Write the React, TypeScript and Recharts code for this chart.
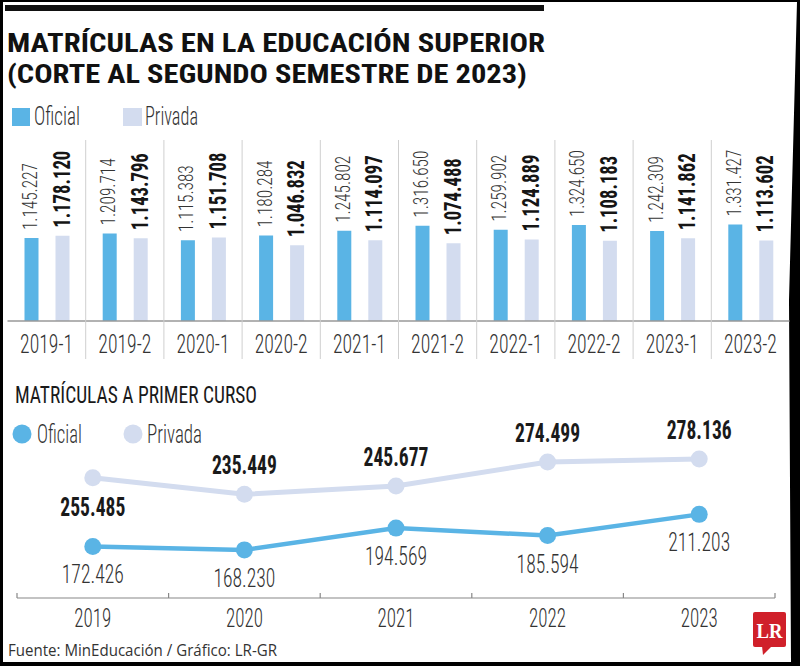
import React from 'react';
import { BarChart, Bar, XAxis, YAxis, LabelList, LineChart, Line } from 'recharts';

// ---- DATA ----
const semesters = ['2019-1', '2019-2', '2020-1', '2020-2', '2021-1', '2021-2', '2022-1', '2022-2', '2023-1', '2023-2'];
const oficialSemester = [1145227, 1209714, 1115383, 1180284, 1245802, 1316650, 1259902, 1324650, 1242309, 1331427];
const privadaSemester = [1178120, 1143796, 1151708, 1046832, 1114097, 1074488, 1124889, 1108183, 1141862, 1113602];

const years = ['2019', '2020', '2021', '2022', '2023'];
const oficialFirst = [172426, 168230, 194569, 185594, 211203];
const privadaFirst = [255485, 235449, 245677, 274499, 278136];

const barData = semesters.map((s, i) => ({ s, oficial: oficialSemester[i], privada: privadaSemester[i] }));
const lineData = years.map((y, i) => ({ y, oficial: oficialFirst[i], privada: privadaFirst[i] }));

// ---- STYLE ----
const BLUE = '#5ab4e5';
const LIGHT = '#d3dcef';
const COND = "'Liberation Sans Narrow', 'Roboto Condensed', 'DejaVu Sans Condensed', 'Arial Narrow', 'Noto Sans', sans-serif";
const SANS = "'Open Sans', 'Noto Sans', 'DejaVu Sans', sans-serif";

const fmt = (n: number) => String(n).replace(/\B(?=(\d{3})+(?!\d))/g, '.');

const BAR_STEP = 782 / 10;
const LINE_STEP = 758 / 5;

const BarTick = (props: any) => {
  const { x, y, payload, index } = props;
  return (
    <g>
      {index > 0 && (
        <line x1={x - BAR_STEP / 2} x2={x - BAR_STEP / 2} y1={y - 181} y2={y + 38} stroke="#cfcfcf" strokeWidth={1} />
      )}
      <text x={x} y={y + 32} textAnchor="middle" fontFamily={COND} fontSize={25} fontWeight={300} fill="#333"
        textLength={53} lengthAdjust="spacingAndGlyphs">{payload.value}</text>
    </g>
  );
};

const LineTick = (props: any) => {
  const { x, y, payload, index } = props;
  return (
    <g>
      <line x1={x - LINE_STEP / 2} x2={x - LINE_STEP / 2} y1={y - 5} y2={y} stroke="#888" strokeWidth={1.2} />
      {index === years.length - 1 && (
        <line x1={x + LINE_STEP / 2} x2={x + LINE_STEP / 2} y1={y - 5} y2={y} stroke="#888" strokeWidth={1.2} />
      )}
      <text x={x} y={y + 29} textAnchor="middle" fontFamily={COND} fontSize={25} fontWeight={300} fill="#333"
        textLength={37} lengthAdjust="spacingAndGlyphs">{payload.value}</text>
    </g>
  );
};

const makeBarLabel = (bold: boolean) => (props: any) => {
  const { x, y, width, value } = props;
  const cx = x + width / 2 + (bold ? 7 : 5.5);
  const ty = y - 8;
  return (
    <text transform={`translate(${cx},${ty}) rotate(-90)`} x={0} y={0} textAnchor="start"
      fontFamily={COND} fontSize={bold ? 23 : 21} fontWeight={bold ? 700 : 300}
      fill={bold ? '#151515' : '#333'} textLength={bold ? 77 : 67} lengthAdjust="spacingAndGlyphs">
      {fmt(value)}
    </text>
  );
};

const privadaLineLabel = (props: any) => {
  const { x, y, value, index } = props;
  const cy = index === 0 ? y + 29 : y - 29;
  return (
    <text x={x} y={cy + 9} textAnchor="middle" fontFamily={COND} fontSize={25} fontWeight={700}
      fill="#1a1a1a" textLength={65} lengthAdjust="spacingAndGlyphs">{fmt(value)}</text>
  );
};

const oficialLineLabel = (props: any) => {
  const { x, y, value } = props;
  return (
    <text x={x} y={y + 28 + 9} textAnchor="middle" fontFamily={COND} fontSize={25} fontWeight={300}
      fill="#333" textLength={62} lengthAdjust="spacingAndGlyphs">{fmt(value)}</text>
  );
};

export default function App() {
  return (
    <div style={{ position: 'absolute', left: 0, top: 0, width: 800, height: 666, background: '#000', overflow: 'hidden' }}>
      <div style={{
        position: 'absolute', left: 0, top: 0, width: 800, height: 666, background: '#fff',
        clipPath: 'polygon(3px 2px, 797px 2px, 789px 300px, 791px 662px, 3px 662px)',
      }} />
      <svg width={800} height={666} style={{ position: 'absolute', left: 0, top: 0 }}>
        <rect x={5} y={5} width={539} height={6} fill="#111" />
        <text x={7} y={52} fontFamily={COND} fontSize={26} fontWeight={700} fill="#111"
          textLength={538} lengthAdjust="spacingAndGlyphs">MATRÍCULAS EN LA EDUCACIÓN SUPERIOR</text>
        <text x={7} y={83} fontFamily={COND} fontSize={26} fontWeight={700} fill="#111"
          textLength={520} lengthAdjust="spacingAndGlyphs">(CORTE AL SEGUNDO SEMESTRE DE 2023)</text>

        <rect x={12} y={108} width={18} height={18} fill={BLUE} />
        <text x={34} y={125} fontFamily={COND} fontSize={26} fontWeight={300} fill="#333" textLength={46} lengthAdjust="spacingAndGlyphs">Oficial</text>
        <rect x={123} y={108} width={19} height={18} fill={LIGHT} />
        <text x={145} y={125} fontFamily={COND} fontSize={26} fontWeight={300} fill="#333" textLength={53} lengthAdjust="spacingAndGlyphs">Privada</text>

        <text x={15} y={403} fontFamily={COND} fontSize={24} fontWeight={400} fill="#1a1a1a"
          textLength={242} lengthAdjust="spacingAndGlyphs">MATRÍCULAS A PRIMER CURSO</text>

        <circle cx={22} cy={434} r={9.5} fill={BLUE} />
        <text x={37} y={443} fontFamily={COND} fontSize={26} fontWeight={300} fill="#333" textLength={45} lengthAdjust="spacingAndGlyphs">Oficial</text>
        <circle cx={133} cy={434} r={9.5} fill={LIGHT} />
        <text x={147} y={443} fontFamily={COND} fontSize={26} fontWeight={300} fill="#333" textLength={55} lengthAdjust="spacingAndGlyphs">Privada</text>

        <text x={8} y={656} fontFamily={SANS} fontSize={15.5} fill="#333" textLength={269} lengthAdjust="spacingAndGlyphs">Fuente: MinEducación / Gráfico: LR-GR</text>

        <rect x={753} y={612} width={33} height={35} rx={2} fill="#d0202a" />
        <polygon points="762,646 772,646 763,655" fill="#d0202a" />
        <text x={769.5} y={638} textAnchor="middle" fontFamily="'Liberation Serif', 'DejaVu Serif', serif" fontSize={21}
          fontWeight={700} fill="#fff" textLength={26} lengthAdjust="spacingAndGlyphs">LR</text>
      </svg>

      <div style={{ position: 'absolute', left: 0, top: 0 }}>
        <BarChart width={800} height={370} data={barData} margin={{ top: 140, right: 10.5, bottom: 12, left: 7.5 }}
          barSize={14} barGap={17}>
          <XAxis dataKey="s" height={37} interval={0} tickLine={false} tickSize={0} tickMargin={0}
            axisLine={{ stroke: '#999', strokeWidth: 1.5 }} tick={<BarTick />} />
          <YAxis hide width={0} domain={[0, 2500000]} />
          <Bar dataKey="oficial" fill={BLUE} isAnimationActive={false}>
            <LabelList dataKey="oficial" content={makeBarLabel(false)} />
          </Bar>
          <Bar dataKey="privada" fill={LIGHT} isAnimationActive={false}>
            <LabelList dataKey="privada" content={makeBarLabel(true)} />
          </Bar>
        </BarChart>
      </div>

      <div style={{ position: 'absolute', left: 0, top: 370 }}>
        <LineChart width={800} height={296} data={lineData} margin={{ top: 71, right: 25, bottom: 38, left: 17 }}>
          <XAxis dataKey="y" height={30} interval={0} tickLine={false} tickSize={0} tickMargin={0}
            padding={{ left: LINE_STEP / 2, right: LINE_STEP / 2 }}
            axisLine={{ stroke: '#888', strokeWidth: 1.2 }} tick={<LineTick />} />
          <YAxis hide width={0} domain={[110000, 300000]} />
          <Line type="linear" dataKey="privada" stroke={LIGHT} strokeWidth={5}
            dot={{ r: 8.5, fill: LIGHT, stroke: LIGHT, strokeWidth: 0 }} activeDot={false} isAnimationActive={false}>
            <LabelList dataKey="privada" content={privadaLineLabel} />
          </Line>
          <Line type="linear" dataKey="oficial" stroke={BLUE} strokeWidth={4.5}
            dot={{ r: 8.5, fill: BLUE, stroke: BLUE, strokeWidth: 0 }} activeDot={false} isAnimationActive={false}>
            <LabelList dataKey="oficial" content={oficialLineLabel} />
          </Line>
        </LineChart>
      </div>
    </div>
  );
}
